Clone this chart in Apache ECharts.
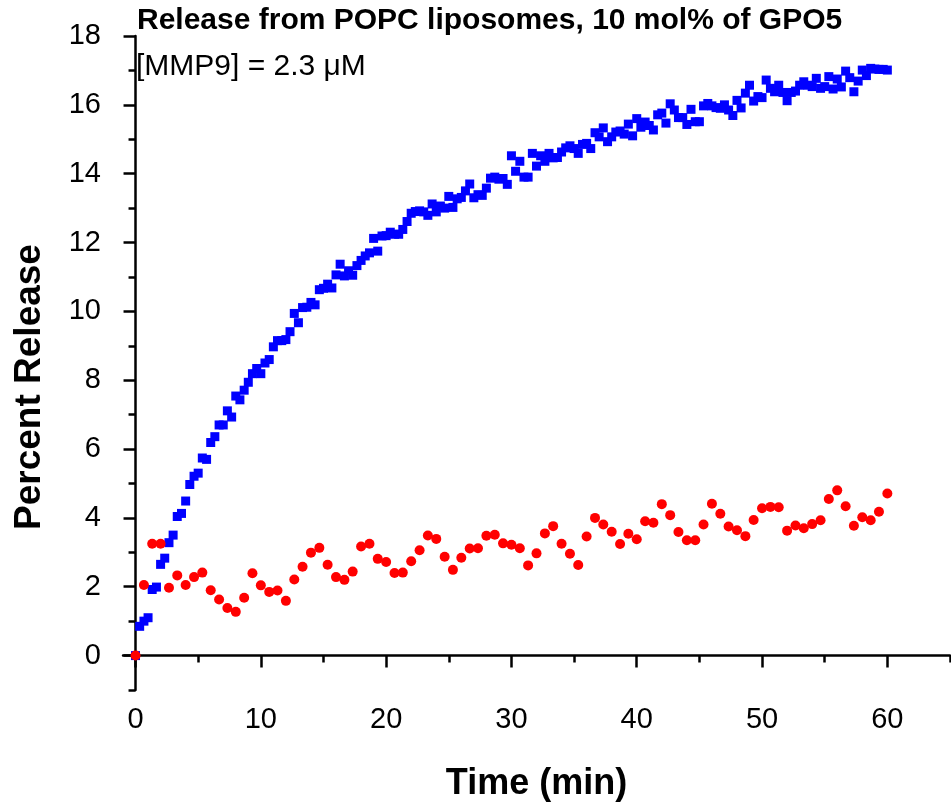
<!DOCTYPE html>
<html>
<head>
<meta charset="utf-8">
<script src="https://cdn.jsdelivr.net/npm/echarts@6/dist/echarts.min.js"></script>
<style>html,body{margin:0;padding:0;background:#fff;}#chart{width:951px;height:804px;}</style>
</head>
<body>
<div id="chart"></div>
<script>
const titleText = 'Release from POPC liposomes, 10 mol% of GPO5';
const subtitleText = '[MMP9] = 2.3 \u03bcM';
const xName = 'Time (min)';
const yName = 'Percent Release';
const xTickLabels = [0, 10, 20, 30, 40, 50, 60];
const xMinorTicks = [5, 15, 25, 35, 45, 55, 65];
const yTickLabels = [0, 2, 4, 6, 8, 10, 12, 14, 16, 18];
const yMinorTicks = [-1, 1, 3, 5, 7, 9, 11, 13, 15, 17];

const blueTime = [0,0.33,0.67,1,1.33,1.67,2,2.33,2.67,3,3.33,3.67,4,4.33,4.67,5,5.33,5.67,6,6.33,6.67,7,7.33,7.67,8,8.33,8.67,9,9.33,9.67,10,10.33,10.67,11,11.33,11.67,12,12.33,12.67,13,13.33,13.67,14,14.33,14.67,15,15.33,15.67,16,16.33,16.67,17,17.33,17.67,18,18.33,18.67,19,19.33,19.67,20,20.33,20.67,21,21.33,21.67,22,22.33,22.67,23,23.33,23.67,24,24.33,24.67,25,25.33,25.67,26,26.33,26.67,27,27.33,27.67,28,28.33,28.67,29,29.33,29.67,30,30.33,30.67,31,31.33,31.67,32,32.33,32.67,33,33.33,33.67,34,34.33,34.67,35,35.33,35.67,36,36.33,36.67,37,37.33,37.67,38,38.33,38.67,39,39.33,39.67,40,40.33,40.67,41,41.33,41.67,42,42.33,42.67,43,43.33,43.67,44,44.33,44.67,45,45.33,45.67,46,46.33,46.67,47,47.33,47.67,48,48.33,48.67,49,49.33,49.67,50,50.33,50.67,51,51.33,51.67,52,52.33,52.67,53,53.33,53.67,54,54.33,54.67,55,55.33,55.67,56,56.33,56.67,57,57.33,57.67,58,58.33,58.67,59,59.33,59.67,60];
const blueRelease = [
  0, 0.85, 1.0,
  1.1, 1.92, 1.99,
  2.65, 2.83, 3.28,
  3.5, 4.04, 4.13,
  4.49, 4.97, 5.21,
  5.3, 5.74, 5.7,
  6.19, 6.36, 6.7,
  6.7, 7.11, 6.93,
  7.54, 7.43, 7.71,
  7.94, 8.19, 8.34,
  8.19, 8.5, 8.6,
  8.97, 9.15, 9.15,
  9.18, 9.41, 9.94,
  9.67, 10.11, 10.12,
  10.26, 10.19, 10.63,
  10.67, 10.79, 10.68,
  11.06, 11.37, 11.03,
  11.18, 11.05, 11.33,
  11.48, 11.61, 11.7,
  12.12, 11.75, 12.19,
  12.2, 12.3, 12.24,
  12.24, 12.38, 12.61,
  12.85, 12.9, 12.92,
  12.89, 12.79, 13.12,
  12.89, 13.06, 13.0,
  13.34, 13.02, 13.27,
  13.31, 13.5, 13.7,
  13.3, 13.39, 13.37,
  13.58, 13.87, 13.9,
  13.84, 13.86, 13.69,
  14.52, 14.07, 14.36,
  13.9, 13.9, 14.59,
  14.22, 14.52, 14.36,
  14.59, 14.46, 14.47,
  14.63, 14.75, 14.81,
  14.73, 14.59, 14.85,
  14.88, 14.73, 15.19,
  15.07, 15.33, 14.93,
  15.07, 15.21, 15.24,
  15.15, 15.44, 15.1,
  15.6, 15.35, 15.5,
  15.4, 15.27, 15.71,
  15.76, 15.47, 16.03,
  15.85, 15.63, 15.63,
  15.43, 15.87, 15.51,
  15.51, 15.97, 16.04,
  15.97, 15.92, 15.9,
  16.0, 15.85, 15.69,
  16.13, 15.91, 16.34,
  16.57, 16.11, 16.24,
  16.21, 16.72, 16.48,
  16.38, 16.57, 16.36,
  16.12, 16.36, 16.4,
  16.57, 16.67, 16.57,
  16.53, 16.77, 16.48,
  16.53, 16.82, 16.46,
  16.75, 16.52, 16.98,
  16.79, 16.38, 16.69,
  17.01, 16.85, 17.06,
  17.04, 17.03, 17.03,
  17.01
];

const redTime = [0,0.67,1.33,2,2.67,3.33,4,4.67,5.33,6,6.67,7.33,8,8.67,9.33,10,10.67,11.33,12,12.67,13.33,14,14.67,15.33,16,16.67,17.33,18,18.67,19.33,20,20.67,21.33,22,22.67,23.33,24,24.67,25.33,26,26.67,27.33,28,28.67,29.33,30,30.67,31.33,32,32.67,33.33,34,34.67,35.33,36,36.67,37.33,38,38.67,39.33,40,40.67,41.33,42,42.67,43.33,44,44.67,45.33,46,46.67,47.33,48,48.67,49.33,50,50.67,51.33,52,52.67,53.33,54,54.67,55.33,56,56.67,57.33,58,58.67,59.33,60];
const redRelease = [
  0, 2.05, 3.25, 3.25, 1.97, 2.33, 2.05, 2.28, 2.41, 1.9,
  1.63, 1.38, 1.27, 1.68, 2.39, 2.04, 1.85, 1.89, 1.59, 2.21,
  2.58, 2.99, 3.13, 2.64, 2.28, 2.2, 2.44, 3.17, 3.25, 2.81,
  2.72, 2.4, 2.41, 2.74, 3.06, 3.49, 3.39, 2.87, 2.49, 2.84,
  3.11, 3.12, 3.48, 3.51, 3.26, 3.22, 3.12, 2.62, 2.97, 3.55,
  3.76, 3.25, 2.96, 2.63, 3.46, 4.0, 3.81, 3.6, 3.24, 3.54,
  3.38, 3.9, 3.86, 4.4, 4.08, 3.59, 3.35, 3.35, 3.81, 4.41,
  4.12, 3.75, 3.64, 3.47, 3.94, 4.28, 4.32, 4.31, 3.63, 3.78,
  3.7, 3.82, 3.93, 4.55, 4.8, 4.34, 3.77, 4.02, 3.93, 4.18,
  4.71
];

const FONT = '"Liberation Sans", Arial, sans-serif';
const blueData = blueTime.map((t, i) => [t, blueRelease[i]]);
const redData = redTime.map((t, i) => [t, redRelease[i]]);

function ls() { return {color: '#000', width: 2.5, opacity: 1}; }

const chart = echarts.init(document.getElementById('chart'), null, {renderer: 'canvas'});
chart.setOption({
  animation: false,
  backgroundColor: '#fff',
  grid: {left: 123, right: 1, top: 36, bottom: 114, containLabel: false, outerBoundsMode: 'none'},
  xAxis: [
    {
      type: 'value', min: -1, max: 65,
      name: xName, nameLocation: 'middle', nameGap: 76,
      nameTextStyle: {fontFamily: FONT, fontWeight: 'bold', fontSize: 36, color: '#000'},
      axisLine: {show: true, lineStyle: ls()},
      axisTick: {show: true, customValues: xTickLabels, length: 12, lineStyle: ls()},
      axisLabel: {customValues: xTickLabels, fontFamily: FONT, fontSize: 29, color: '#000', margin: 15},
      splitLine: {show: false}
    },
    {
      type: 'value', min: -1, max: 65, position: 'bottom',
      axisLine: {show: false},
      axisTick: {show: true, customValues: xMinorTicks, length: 7, lineStyle: ls()},
      axisLabel: {show: false},
      splitLine: {show: false}
    }
  ],
  yAxis: [
    {
      type: 'value', min: -1, max: 18,
      axisLine: {show: true, lineStyle: ls()},
      axisTick: {show: true, customValues: yTickLabels, length: 12, lineStyle: ls()},
      axisLabel: {customValues: yTickLabels, fontFamily: FONT, fontSize: 29, color: '#000', margin: 22},
      splitLine: {show: false}
    },
    {
      type: 'value', min: -1, max: 18, position: 'left',
      axisLine: {show: false},
      axisTick: {show: true, customValues: yMinorTicks, length: 7, lineStyle: ls()},
      axisLabel: {show: false},
      splitLine: {show: false}
    }
  ],
  graphic: [
    {type: 'text', x: 137, y: 6, style: {text: titleText, fontFamily: FONT, fontWeight: 'bold', fontSize: 30, fill: '#000', textVerticalAlign: 'top'}},
    {type: 'text', x: 136, y: 52, style: {text: subtitleText, fontFamily: FONT, fontSize: 30, fill: '#000', textVerticalAlign: 'top'}},
    {type: 'text', x: 30, y: 387, rotation: Math.PI / 2, style: {text: yName, fontFamily: FONT, fontWeight: 'bold', fontSize: 37, fill: '#000', textAlign: 'center', textVerticalAlign: 'middle'}}
  ],
  series: [
    {
      type: 'scatter', name: 'GPO5', xAxisIndex: 0, yAxisIndex: 0,
      symbol: 'rect', symbolSize: 9, data: blueData,
      itemStyle: {color: '#0000ff', opacity: 1}, z: 2
    },
    {
      type: 'scatter', name: 'Control', xAxisIndex: 0, yAxisIndex: 0,
      symbol: 'circle', symbolSize: 10, data: redData,
      itemStyle: {color: '#ff0000', opacity: 1}, z: 3
    }
  ]
});
</script>
</body>
</html>
